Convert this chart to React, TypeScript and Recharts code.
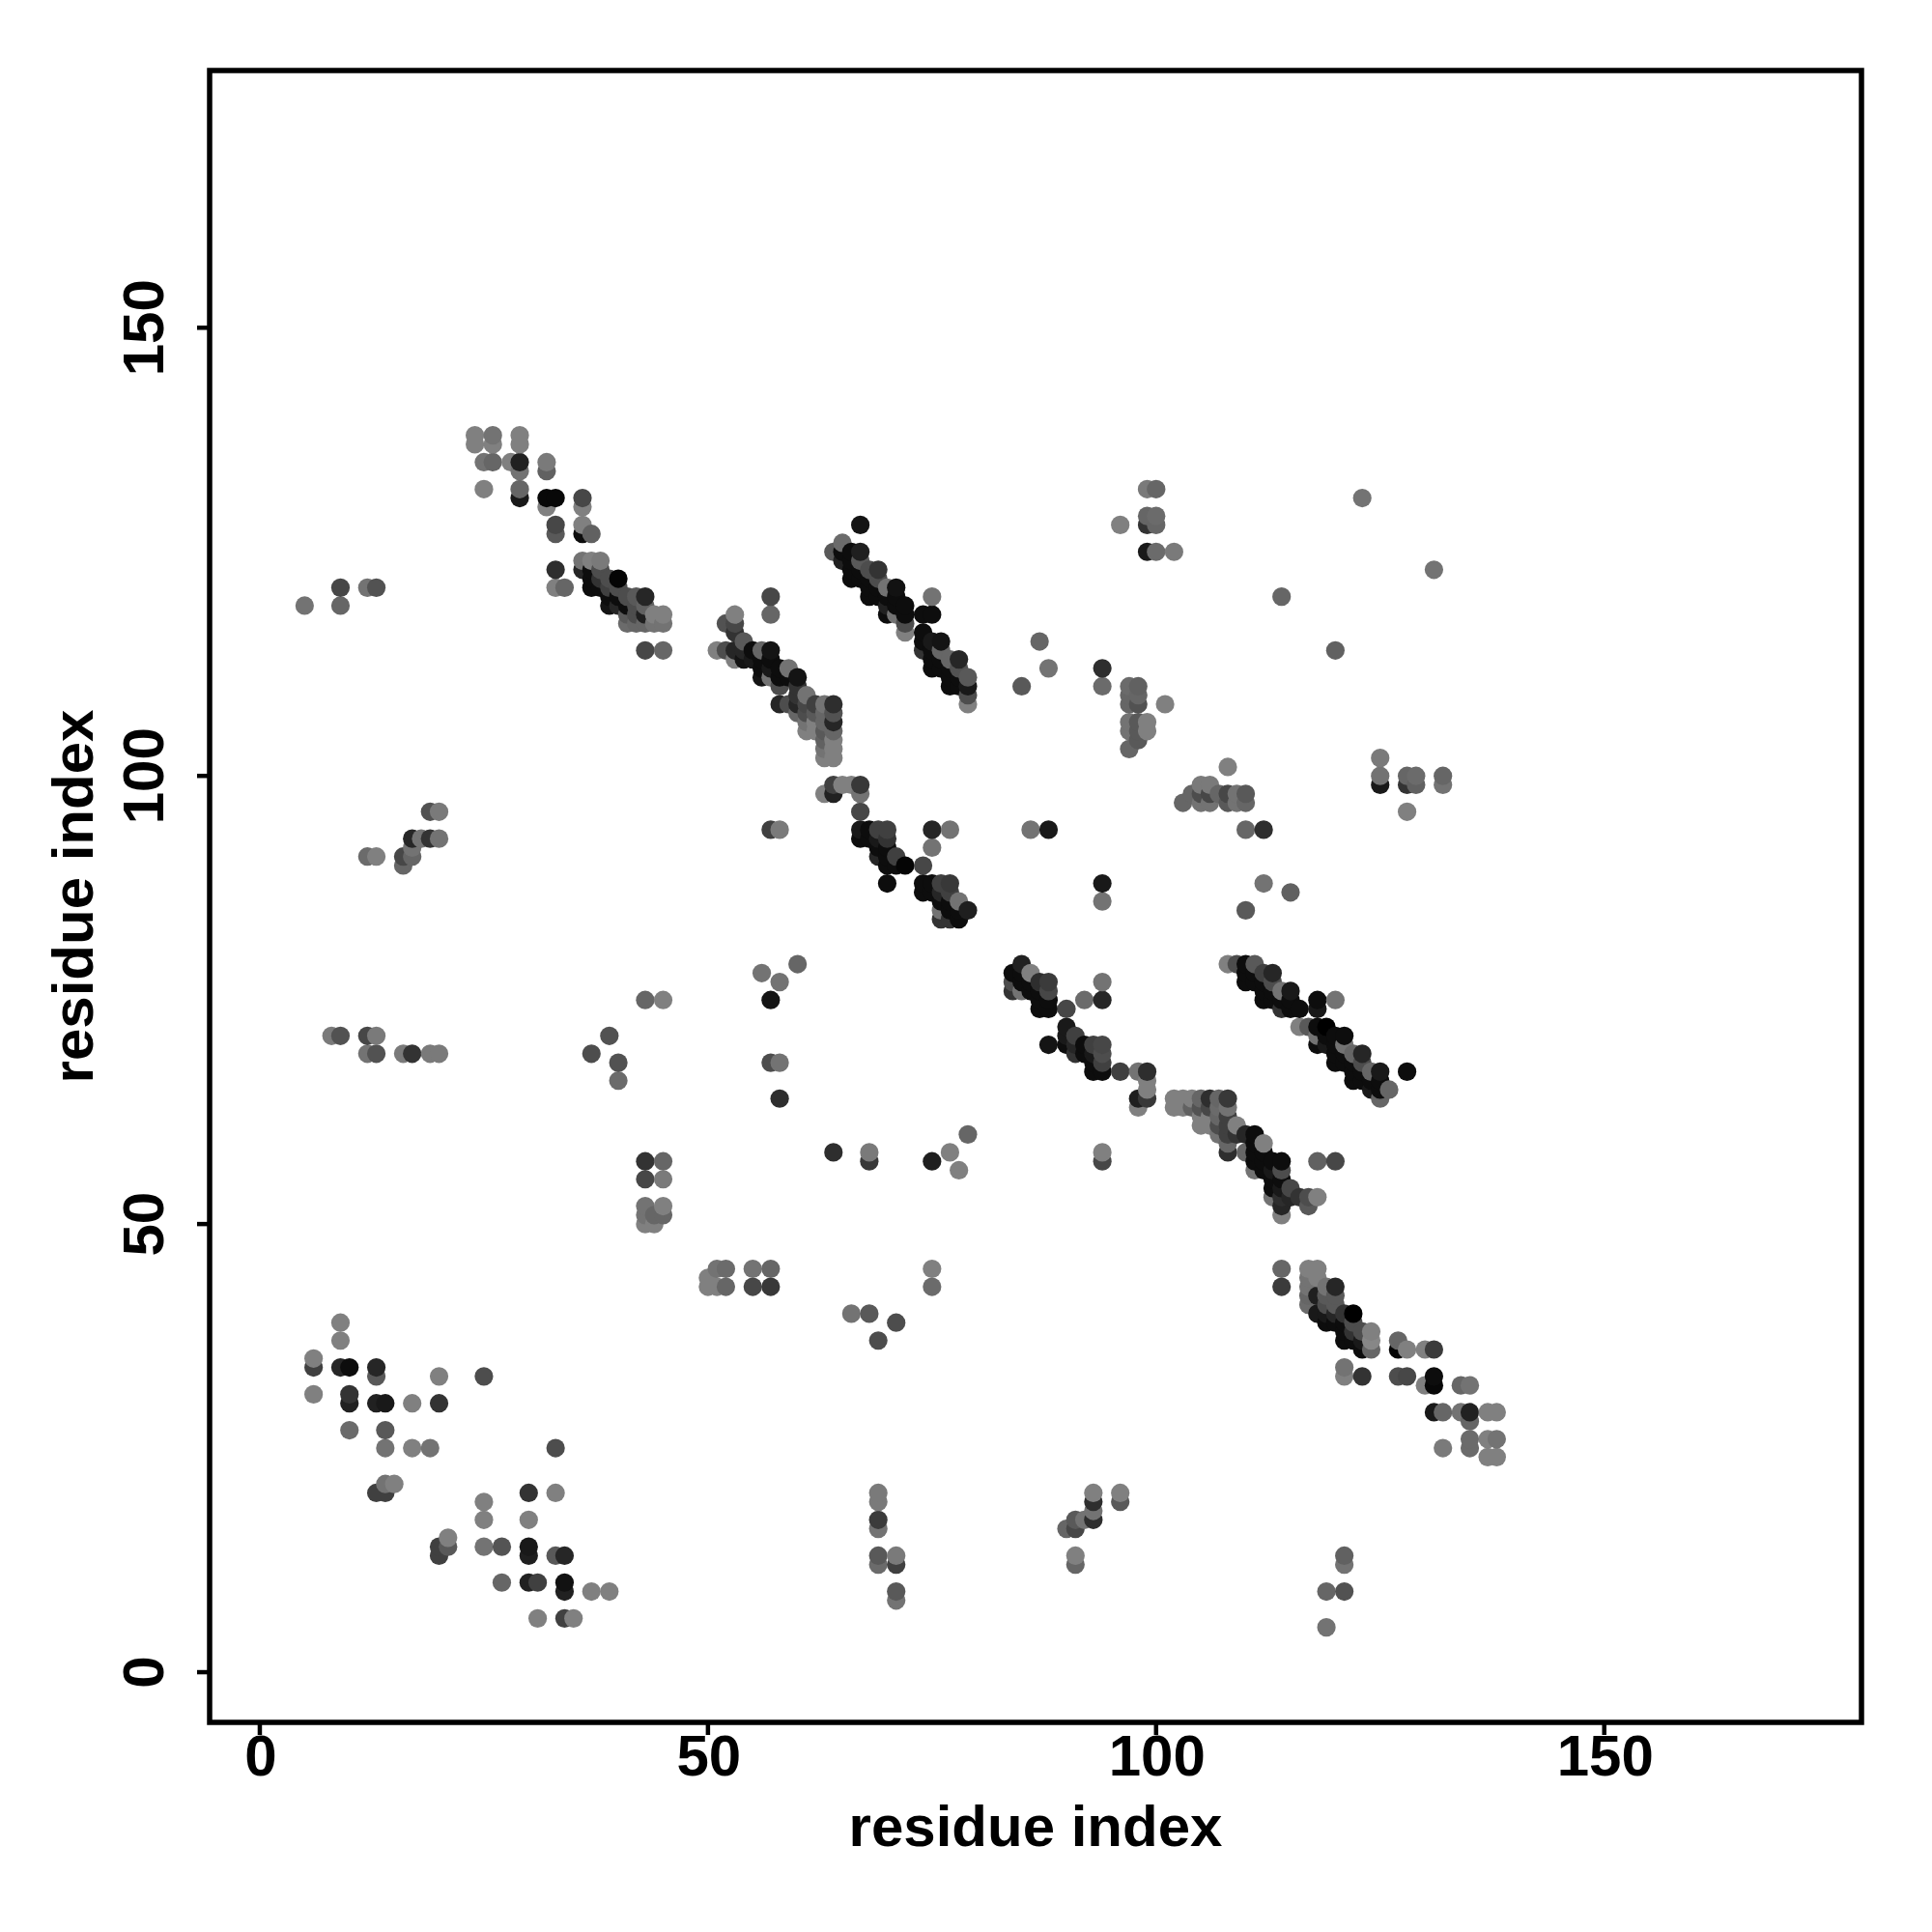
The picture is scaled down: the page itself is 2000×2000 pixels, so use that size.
// App.tsx — residue contact map, grey level follows contact score
import { ScatterChart, Scatter, XAxis, YAxis, ReferenceArea } from "recharts";

type Contact = [number, number, number]; // residue x, residue y, score

const AXIS_TICKS = [0, 50, 100, 150];
const AXIS_MIN = -5.6;
const AXIS_MAX = 178.7;
const AXIS_TITLE = "residue index";

const lowerLeft: Contact[] = [
    [9,39,.5],[9,37,.5],[6,34,.75],[6,35,.5],[9,34,.85],[10,34,.95],[13,34,.85],[13,33,.65],[20,33,.5],[25,33,.7],
    [6,31,.5],[10,31,.8],[10,30,.87],[13,30,.87],[14,30,.9],[17,30,.5],[20,30,.8],[10,27,.58],[14,27,.65],
    [14,25,.55],[17,25,.5],[19,25,.55],[33,25,.7],[13,20,.75],[14,20,.75],[14,21,.55],[15,21,.5],[30,20,.8],[33,20,.5],
    [25,19,.5],[25,17,.5],[30,17,.5],[20,14,.75],[20,13,.75],[21,14,.65],[21,15,.5],[25,14,.55],[27,14,.67],
    [30,14,.9],[30,13,.88],[33,13,.65],[34,13,.85],[27,10,.6],[30,10,.87],[31,10,.75],[34,10,.93],[34,9,.87],
    [37,9,.5],[39,9,.5],[31,6,.5],[34,6,.75],[35,6,.5],
];

const lowerMiddle: Contact[] = [
    [64,58,.82],[68,58,.52],[68,57,.78],[75,57,.88],[77,58,.5],[78,56,.5],[79,60,.6],
    [52,45,.58],[51,45,.55],[50,44,.5],[50,43,.5],[51,43,.5],[52,43,.6],[55,45,.55],[57,45,.6],[55,43,.72],[57,43,.78],
    [75,45,.5],[75,43,.58],[66,40,.55],[68,40,.65],[71,39,.7],[69,37,.7],
    [69,20,.52],[69,19,.52],[69,17,.77],[69,16,.55],[69,13,.65],[69,12,.58],[71,13,.52],[71,12,.75],[71,9,.65],[71,8,.55],
    [90,16,.6],[91,17,.65],[91,16,.72],[92,17,.55],[93,20,.5],[93,19,.82],[93,18,.55],[93,17,.82],[96,20,.5],[96,19,.65],
    [91,13,.5],[91,12,.6],[121,13,.62],[121,12,.55],[119,9,.6],[121,9,.68],[119,5,.55],
];

const lowerRightStrand: Contact[] = [
    [114,45,.6],[114,43,.77],[117,45,.5],[118,45,.5],[117,44,.55],[118,44,.5],[117,43,.55],[117,42,.6],[117,41,.58],
    [119,43,.55],[120,43,.85],[118,42,.88],[119,42,.65],[120,42,.65],[119,41,.7],[120,41,.65],
    [118,40,.9],[119,40,.9],[120,40,.85],[121,40,.8],[122,40,1],[119,39,.95],[120,39,.95],[121,39,.95],[122,39,.7],
    [121,38,.95],[122,38,.8],[123,38,.7],[124,38,.5],[121,37,.95],[122,37,.95],[123,37,.9],[124,37,.47],[123,36,.95],[124,36,.6],
    [127,37,.6],[127,36,.98],[128,36,.5],[130,36,.5],[131,36,.77],[121,34,.55],[121,33,.5],[123,33,.8],
    [127,33,.7],[128,33,.72],[131,33,.95],[130,32,.5],[131,32,.97],[134,32,.6],[135,32,.55],
    [131,29,.9],[132,29,.6],[134,29,.55],[135,29,.87],[137,29,.5],[138,29,.5],[135,28,.6],
    [135,26,.58],[135,25,.58],[137,26,.5],[138,26,.55],[137,24,.5],[138,24,.5],[132,25,.52],
];

const upperParallelStrand: Contact[] = [
    [108,79,.5],[109,79,.7],[110,79,.95],[111,79,.65],[110,78,.95],[111,78,.95],[112,78,.75],[113,78,.85],
    [110,77,.95],[111,77,.95],[112,77,.95],[113,77,.7],[112,76,.95],[113,76,.95],[114,76,.55],[115,76,.9],
    [112,75,.95],[113,75,.95],[114,75,.95],[115,75,.95],[114,74,.8],[115,74,.95],[116,74,.95],
    [118,75,.95],[120,75,.55],[118,74,.9],[116,72,.5],[117,72,.65],[118,72,.95],[119,72,1],
    [118,71,.55],[119,71,.95],[120,71,.95],[121,71,.95],[118,70,.95],[119,70,.9],[120,70,.95],[121,70,.55],
    [120,69,.95],[120,68,.95],[121,69,.95],[122,69,.6],[123,69,.85],[121,68,.95],[122,68,.95],[123,68,.7],
    [122,67,.95],[123,67,.95],[124,67,.6],[125,67,.9],[128,67,.95],[122,66,.95],[123,66,.95],[124,66,.95],[125,66,.95],
    [124,65,.9],[125,65,.95],[126,65,.6],[125,64,.6],
];

const centreStrand: Contact[] = [
    [102,64,.5],[102,63,.5],[103,64,.5],[104,64,.5],[105,64,.6],[106,64,.82],[107,64,.6],[108,64,.78],
    [103,63,.5],[104,63,.62],[105,63,.68],[106,63,.72],[107,63,.58],[108,63,.55],[105,62,.5],[106,62,.5],[107,62,.6],[108,62,.75],
    [105,61,.5],[106,61,.5],[107,61,.7],[108,61,.75],[109,61,.5],[107,60,.55],[108,60,.75],[109,60,.8],[110,60,.85],[111,60,.95],
    [108,59,.6],[111,59,.95],[112,59,.5],[108,58,.82],[110,58,.6],[111,58,.95],[112,58,.95],
    [111,57,.95],[112,57,.95],[113,57,.95],[114,57,.95],[118,57,.62],[120,57,.72],[111,56,.55],[112,56,.95],[113,56,.9],[114,56,.7],
    [113,55,.95],[114,55,.95],[113,54,.95],[114,54,.9],[115,54,.72],[113,53,.55],[114,53,.82],[115,53,.85],[116,53,.8],[117,53,.7],[118,53,.5],
    [114,52,.85],[117,52,.65],[114,51,.5],
];

const diagonalMiddle: Contact[] = [
    [63,98,.5],[64,99,.75],[64,98,.87],[65,99,.5],[66,99,.5],[67,99,.78],[67,98,.55],[67,96,.72],
    [67,94,.9],[68,94,.95],[69,94,.75],[70,94,.75],[75,94,.85],[77,94,.55],[86,94,.55],[88,94,.9],
    [67,93,.95],[68,93,.95],[69,93,.9],[70,93,.8],[75,92,.55],[69,92,.95],[70,92,.95],[69,91,.85],[70,91,.95],[71,91,.75],
    [70,90,.95],[71,90,.95],[72,90,.98],[74,90,.72],[70,88,.95],[74,88,.95],[75,88,.95],[76,88,.75],[77,88,.78],
    [74,87,.95],[75,87,.95],[76,87,.85],[77,87,.75],[76,86,.95],[77,86,.95],[78,86,.55],
    [76,85,.55],[77,85,.95],[78,85,.95],[79,85,.88],[76,84,.8],[77,84,.8],[78,84,.95],[94,88,.9],[94,86,.55],
    [85,79,.87],[84,78,.95],[85,78,.95],[86,78,.5],[84,77,.7],[85,77,.95],[86,77,.95],[87,77,.82],[88,77,.77],[94,77,.55],
    [84,76,.8],[85,76,.55],[86,76,.95],[87,76,.95],[88,76,.72],[87,75,.95],[88,75,.95],[92,75,.58],[94,75,.85],
    [87,74,.95],[88,74,.95],[90,74,.72],[90,72,.9],[90,71,.9],[91,71,.75],[88,70,.92],[90,70,.95],[91,70,.85],[92,70,.95],[93,70,.75],[94,70,.72],
    [91,69,.8],[92,69,.95],[93,69,.9],[94,69,.7],[93,68,.95],[94,68,.75],[93,67,.95],[94,67,.95],[96,67,.75],[98,67,.55],[99,67,.82],
    [99,66,.5],[99,65,.5],[98,64,.88],[99,64,.78],[98,63,.5],[94,58,.5],[94,57,.72],
];

const upperStrand: Contact[] = [
    [67,128,.92],[65,126,.58],[64,125,.65],[65,125,.95],[66,125,.95],[67,125,.88],[65,124,.87],[66,124,.95],[67,124,.65],
    [66,123,.95],[67,123,.95],[68,123,.7],[69,123,.8],[66,122,.95],[67,122,.95],[68,122,.95],[69,122,.7],
    [68,121,.95],[69,121,.95],[70,121,.55],[71,121,.93],[68,120,.95],[69,120,.95],[70,120,.95],[71,120,.95],
    [70,119,.87],[71,119,.95],[72,119,.95],[70,118,.95],[71,118,.55],[72,118,.95],[74,118,.95],[75,118,.95],[75,120,.55],
    [72,117,.7],[72,116,.5],[74,116,.95],[74,115,.95],[75,115,.9],[76,115,.92],[74,114,.8],[75,114,.95],[76,114,.6],
    [75,113,.95],[76,113,.95],[77,113,.6],[78,113,.85],[75,112,.95],[76,112,.95],[77,112,.95],[78,112,.68],
    [77,111,.95],[78,111,.95],[79,111,.65],[77,110,.95],[78,110,.95],[79,110,.9],[79,109,.7],[79,108,.5],
];

const middleStrand: Contact[] = [
    [57,120,.72],[57,118,.6],[53,118,.5],[52,117,.68],[53,117,.72],[53,116,.8],[54,115,.65],
    [51,114,.5],[52,114,.7],[53,114,.85],[54,114,.85],[55,114,.95],[56,114,.6],[57,114,.92],
    [53,113,.5],[54,113,.92],[55,113,.9],[56,113,.95],[57,113,.95],[56,112,.95],[57,112,.9],[58,112,.95],[59,112,.55],
    [56,111,.92],[57,111,.55],[58,111,.95],[59,111,.95],[60,111,.92],[58,110,.7],[60,110,.8],[61,109,.55],[60,109,.8],
    [58,108,.85],[59,108,.7],[60,108,.85],[61,108,.72],[62,108,.75],[63,108,.55],[64,108,.82],
    [60,107,.6],[61,107,.7],[62,107,.65],[63,107,.6],[64,107,.68],[61,106,.55],[62,106,.5],[63,106,.6],[64,106,.85],
    [61,105,.5],[62,105,.5],[63,105,.65],[64,105,.6],[63,104,.62],[64,104,.5],[63,103,.55],[64,103,.5],[63,102,.5],[64,102,.5],
];

const topStrand: Contact[] = [
    [24,138,.5],[24,137,.5],[26,138,.55],[26,137,.5],[29,138,.5],[29,137,.5],[25,135,.55],[26,135,.6],[28,135,.5],[29,135,.87],[29,134,.55],
    [32,135,.52],[32,134,.62],[25,132,.5],[29,132,.6],[29,131,.9],[32,131,.97],[33,131,.97],[32,130,.5],[36,131,.72],[36,130,.5],
    [33,128,.72],[33,127,.65],[36,128,.5],[36,127,.95],[37,127,.62],[36,124,.55],[37,124,.5],[38,124,.52],
    [33,123,.82],[36,123,.85],[37,123,.95],[38,123,.7],[33,121,.5],[34,121,.6],[37,122,.95],[38,122,.8],[39,122,.7],[40,122,.98],
    [37,121,.95],[38,121,.95],[39,121,.75],[40,121,.7],[39,120,.95],[40,120,.95],[41,120,.7],[42,120,.65],[43,120,.85],
    [39,119,.92],[40,119,.85],[41,119,.95],[42,119,.7],[43,119,.62],[41,118,.65],[42,118,.7],[43,118,.88],[44,118,.5],[45,118,.5],
    [41,117,.58],[42,117,.6],[43,117,.6],[44,117,.55],[45,117,.55],[43,114,.72],[45,114,.6],
];

const rightCluster: Contact[] = [
    [99,132,.52],[100,132,.6],[96,128,.5],[99,129,.6],[100,129,.58],[99,128,.8],[100,128,.6],[99,125,.9],[100,125,.58],[102,125,.52],
    [123,131,.55],[131,123,.55],[114,120,.6],[120,114,.62],[87,115,.6],[88,112,.55],[85,110,.65],[94,112,.82],[94,110,.58],
    [97,110,.58],[98,110,.62],[97,109,.6],[98,109,.6],[97,108,.6],[98,108,.68],[101,108,.5],
    [97,106,.55],[98,106,.65],[99,106,.5],[97,105,.55],[98,105,.65],[99,105,.5],[98,104,.65],[97,103,.6],
    [108,101,.5],[103,97,.6],[104,98,.6],[105,99,.52],[106,99,.52],[105,98,.7],[106,98,.72],[105,97,.55],[106,97,.55],
    [107,98,.6],[108,98,.72],[109,98,.55],[110,98,.65],[108,97,.65],[109,97,.55],[110,97,.6],
    [125,102,.52],[125,100,.55],[125,99,.9],[128,100,.6],[129,100,.58],[128,99,.8],[129,99,.62],[132,100,.6],[132,99,.55],[128,96,.5],
    [110,94,.6],[112,94,.82],[110,85,.65],[112,88,.55],[115,87,.62],
];

const leftCluster: Contact[] = [
    [5,119,.55],[9,121,.72],[9,119,.6],[12,121,.55],[13,121,.68],
    [19,96,.68],[20,96,.52],[17,93,.85],[18,93,.55],[19,93,.8],[20,93,.55],[12,91,.58],[13,91,.5],[16,91,.72],[17,91,.6],[17,92,.55],[16,90,.6],
    [8,71,.52],[9,71,.68],[12,71,.72],[13,71,.52],[12,69,.55],[13,69,.68],[16,69,.52],[17,69,.8],[19,69,.52],[20,69,.52],
    [43,75,.6],[45,75,.5],[39,71,.68],[37,69,.7],[40,68,.68],[40,66,.58],
    [43,57,.8],[45,57,.6],[43,55,.72],[45,55,.52],[43,52,.55],[45,52,.5],[43,51,.55],[44,51,.6],[45,51,.6],[43,50,.5],[44,50,.5],
    [57,94,.75],[58,94,.52],[57,75,.92],[56,78,.55],[58,77,.55],[60,79,.6],[57,68,.7],[58,68,.55],[58,64,.82],
];

// points overlap in residue order, later x and y on top
const contacts = [
    ...lowerLeft, ...lowerMiddle, ...lowerRightStrand, ...upperParallelStrand, ...centreStrand,
    ...diagonalMiddle, ...upperStrand, ...middleStrand, ...topStrand, ...rightCluster, ...leftCluster,
]
    .map(([x, y, score]) => ({ x, y, score }))
    .sort((a, b) => a.x - b.x || a.y - b.y);

const FONT = "'Liberation Sans', Arial, sans-serif";
const FONT_SIZE = 60;

function scoreToGrey(score: number) {
    const v = Math.round(255 * (1 - score));
    return `rgb(${v},${v},${v})`;
}

const ContactDot = (props: any) => (
    <circle cx={props.cx} cy={props.cy} r={9.6} fill={scoreToGrey(props.payload.score)} />
);

const XTick = ({ x, y, payload }: any) => (
    <text x={x + 1} y={y + 40} textAnchor="middle" fontFamily={FONT} fontWeight="bold" fontSize={FONT_SIZE} fill="#000">
        {payload.value}
    </text>
);

const YTick = ({ x, y, payload }: any) => (
    <text
        transform={`translate(${x - 33},${y}) rotate(-90)`}
        textAnchor="middle"
        fontFamily={FONT}
        fontWeight="bold"
        fontSize={FONT_SIZE}
        fill="#000"
    >
        {payload.value}
    </text>
);

export default function App() {
    return (
        <div style={{ position: "absolute", left: 0, top: 0, width: 2000, height: 2000, background: "#fff" }}>
            <ScatterChart width={2000} height={2000} margin={{ top: 73, right: 73, bottom: 0, left: 0 }}>
                <XAxis
                    type="number"
                    dataKey="x"
                    domain={[AXIS_MIN, AXIS_MAX]}
                    ticks={AXIS_TICKS}
                    axisLine={false}
                    tickLine={{ stroke: "#000", strokeWidth: 4.5 }}
                    tickSize={13}
                    tick={<XTick />}
                    height={217}
                    allowDataOverflow
                    label={{
                        value: AXIS_TITLE,
                        position: "insideTop",
                        offset: 85,
                        fontFamily: FONT,
                        fontWeight: "bold",
                        fontSize: FONT_SIZE,
                        fill: "#000",
                    }}
                />
                <YAxis
                    type="number"
                    dataKey="y"
                    domain={[AXIS_MIN, AXIS_MAX]}
                    ticks={AXIS_TICKS}
                    axisLine={false}
                    tickLine={{ stroke: "#000", strokeWidth: 4.5 }}
                    tickSize={13}
                    tick={<YTick />}
                    width={217}
                    allowDataOverflow
                    label={{
                        value: AXIS_TITLE,
                        angle: -90,
                        position: "insideLeft",
                        offset: 75,
                        textAnchor: "middle",
                        fontFamily: FONT,
                        fontWeight: "bold",
                        fontSize: FONT_SIZE,
                        fill: "#000",
                    }}
                />
                <ReferenceArea
                    x1={AXIS_MIN}
                    x2={AXIS_MAX}
                    y1={AXIS_MIN}
                    y2={AXIS_MAX}
                    fill="none"
                    stroke="#000"
                    strokeWidth={5.5}
                    ifOverflow="visible"
                />
                <Scatter data={contacts} shape={<ContactDot />} isAnimationActive={false} />
            </ScatterChart>
        </div>
    );
}
